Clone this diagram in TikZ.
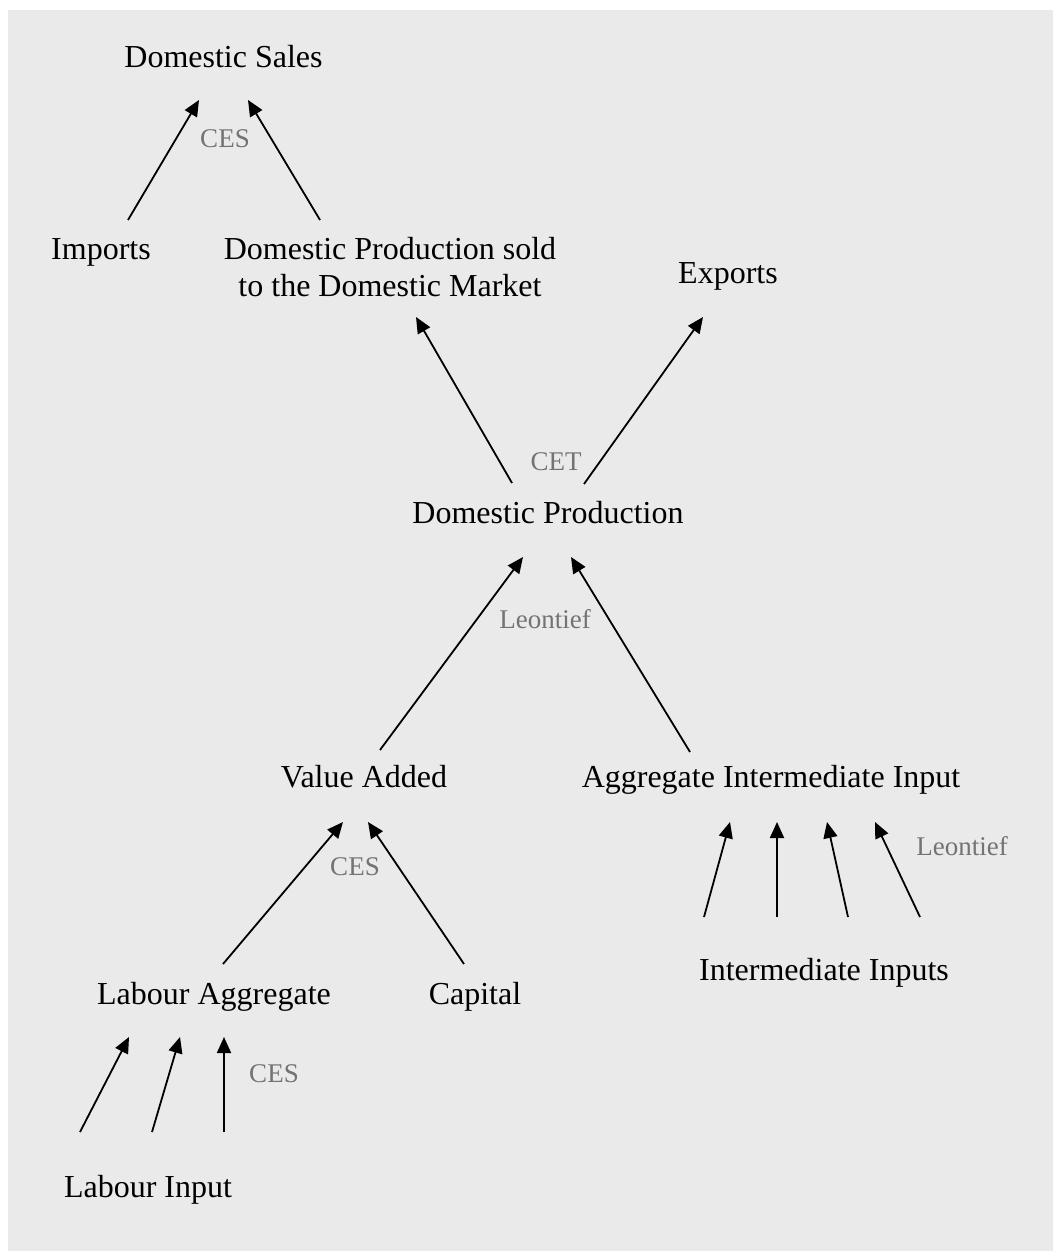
\documentclass[tikz,border=0pt]{standalone}
\usepackage{fontspec}
\setmainfont{Liberation Serif}
\usetikzlibrary{arrows.meta}
\definecolor{panelgray}{RGB}{234,234,234}
\definecolor{labelgray}{RGB}{115,115,115}

\begin{document}
\begin{tikzpicture}[x=0.5pt, y=-0.5pt, line width=0.9pt,
    >={Triangle[length=8pt,width=7pt]}]
  \useasboundingbox (0,0) rectangle (1053,1251);
  \fill[panelgray] (8,10) rectangle (1053,1251);
  \begin{scope}[every node/.style={anchor=base, inner sep=0pt,
      font=\fontsize{16}{18.5}\selectfont}]
    \node (ds) at (223.5,68) {Domestic Sales};
    \node (imp) at (101,260) {Imports};
    \node (dps) [align=center] at (390,297) {Domestic Production sold\\to the Domestic Market};
    \node (exp) at (728,284) {Exports};
    \node (dp) at (548,523) {Domestic Production};
    \node (va) at (364,787) {Value Added};
    \node (aii) at (771,787) {Aggregate Intermediate Input};
    \node (la) at (214,1004) {Labour Aggregate};
    \node (cap) at (475,1004) {Capital};
    \node (ii) at (824,980) {Intermediate Inputs};
    \node (li) at (148,1197) {Labour Input};
  \end{scope}
  \begin{scope}[every node/.style={anchor=base, inner sep=0pt, text=labelgray,
      font=\fontsize{13.5}{16}\selectfont}]
    \node (cesds) at (225,148) {CES};
    \node (cetdp) at (556,470) {CET};
    \node (leodp) at (545,628) {Leontief};
    \node (cesva) at (355,875) {CES};
    \node (leoaii) at (962,855) {Leontief};
    \node (cesla) at (274,1082) {CES};
  \end{scope}
  % sales and trade
  \path[->] ([shift={(27,-40)}]imp.base) edge ([shift={(-24.5,32)}]ds.base);
  \path[->] ([shift={(-70,-77)}]dps.base) edge ([shift={(24.5,32)}]ds.base);
  \path[->] ([shift={(-36,-40)}]dp.base) edge ([shift={(26,20)}]dps.base);
  \path[->] ([shift={(36,-39)}]dp.base) edge ([shift={(-25,33)}]exp.base);
  % production
  \path[->] ([shift={(16,-37)}]va.base) edge ([shift={(-25,34)}]dp.base);
  \path[->] ([shift={(-81,-35)}]aii.base) edge ([shift={(23,34)}]dp.base);
  \path[->] ([shift={(9,-40)}]la.base) edge ([shift={(-21,35)}]va.base);
  \path[->] ([shift={(-11,-40)}]cap.base) edge ([shift={(4,35)}]va.base);
  % intermediate inputs
  \path[->] ([shift={(-120,-63)}]ii.base) edge ([shift={(-41,35)}]aii.base);
  \path[->] ([shift={(-47,-63)}]ii.base) edge ([shift={(6,35)}]aii.base);
  \path[->] ([shift={(24,-63)}]ii.base) edge ([shift={(56,35)}]aii.base);
  \path[->] ([shift={(96,-63)}]ii.base) edge ([shift={(104,35)}]aii.base);
  % labour inputs
  \path[->] ([shift={(-68,-65)}]li.base) edge ([shift={(-85,33)}]la.base);
  \path[->] ([shift={(4,-65)}]li.base) edge ([shift={(-34,33)}]la.base);
  \path[->] ([shift={(76,-65)}]li.base) edge ([shift={(10,33)}]la.base);
\end{tikzpicture}
\end{document}
